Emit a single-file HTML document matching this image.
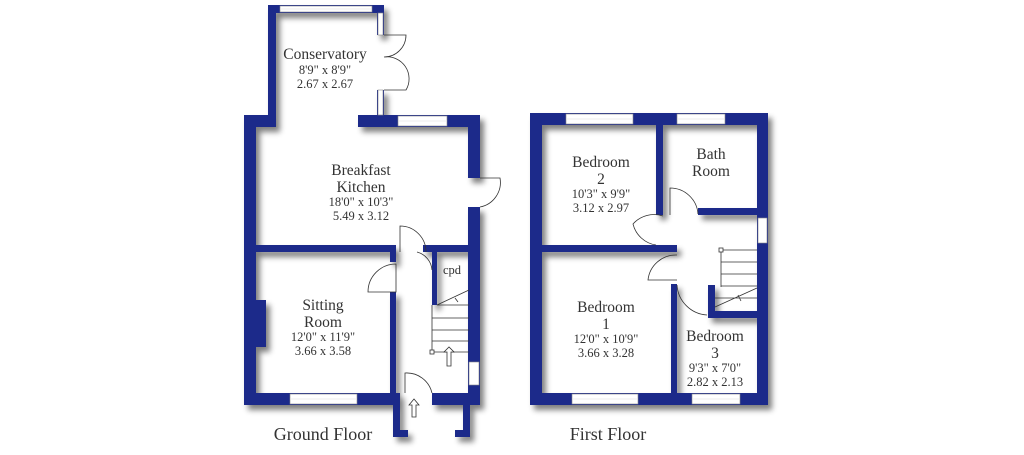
<!DOCTYPE html>
<html><head><meta charset="utf-8"><style>
html,body{margin:0;padding:0;background:#fff;}
svg{display:block}
text{font-family:"Liberation Serif",serif;fill:#333;text-anchor:middle}
.n{font-size:15.5px}.d{font-size:12.5px}
</style></head><body>
<svg width="1024" height="455" viewBox="0 0 1024 455">
<defs>
<filter id="sh" x="-10%" y="-10%" width="130%" height="130%">
<feGaussianBlur in="SourceAlpha" stdDeviation="3"/><feOffset dx="4" dy="5"/>
<feComponentTransfer><feFuncA type="linear" slope="0.5"/></feComponentTransfer>
<feMerge><feMergeNode/><feMergeNode in="SourceGraphic"/></feMerge></filter>
</defs>
<g fill="#1e2a8a" filter="url(#sh)">
<rect x="268" y="5" width="116" height="8"/>
<rect x="268" y="5" width="8" height="122"/>
<rect x="377" y="5" width="7" height="30"/>
<rect x="377" y="90" width="7" height="30"/>
<rect x="244" y="115" width="32" height="12"/>
<rect x="244" y="115" width="12" height="290"/>
<rect x="358" y="115" width="122" height="12"/>
<rect x="468" y="115" width="12" height="63"/>
<rect x="468" y="207" width="12" height="198"/>
<rect x="256" y="245" width="140" height="7"/>
<rect x="423" y="245" width="47" height="7"/>
<rect x="390" y="245" width="6" height="17"/>
<rect x="390" y="292" width="6" height="113"/>
<rect x="432" y="252" width="5" height="53"/>
<rect x="256" y="300" width="10" height="47"/>
<rect x="244" y="393" width="156" height="12"/>
<rect x="432" y="393" width="48" height="12"/>
<rect x="393" y="393" width="7" height="44"/>
<rect x="393" y="430" width="15" height="7"/>
<rect x="463" y="393" width="7" height="44"/>
<rect x="455" y="430" width="15" height="7"/>
<rect x="530" y="113" width="238" height="12"/>
<rect x="530" y="113" width="12" height="292"/>
<rect x="757" y="113" width="11" height="292"/>
<rect x="530" y="393" width="238" height="12"/>
<rect x="656" y="125" width="7" height="90"/>
<rect x="698" y="208" width="59" height="7"/>
<rect x="542" y="245" width="135" height="7"/>
<rect x="671" y="284" width="6" height="109"/>
<rect x="708" y="285" width="7" height="33"/>
<rect x="708" y="311" width="49" height="7"/>
</g>
<g fill="#fff" stroke="#888" stroke-width="0.6">
<rect x="280" y="6" width="92" height="6"/>
<rect x="378" y="13" width="5" height="22"/>
<rect x="378" y="90" width="5" height="25"/>
<rect x="398" y="116" width="49" height="10"/>
<rect x="469" y="362" width="10" height="23"/>
<rect x="290" y="394" width="67" height="10"/>
<rect x="566" y="114" width="67" height="10"/>
<rect x="677" y="114" width="48" height="10"/>
<rect x="758" y="218" width="9" height="25"/>
<rect x="572" y="394" width="66" height="10"/>
<rect x="692" y="394" width="48" height="10"/>
</g>
<g stroke="#ddd" stroke-width="0.6">
<line x1="280" y1="9" x2="372" y2="9"/><line x1="398" y1="121" x2="447" y2="121"/>
<line x1="290" y1="399" x2="357" y2="399"/><line x1="566" y1="119" x2="633" y2="119"/>
<line x1="677" y1="119" x2="725" y2="119"/><line x1="572" y1="399" x2="638" y2="399"/>
<line x1="692" y1="399" x2="740" y2="399"/>
</g>
<g fill="none" stroke="#333" stroke-width="0.8">
<path d="M384 35 L406 35 A22 22 0 0 1 384 57 A22 22 0 0 1 406 90 L384 90"/>
<path d="M480 178 L500 178 A25 25 0 0 1 480 207"/>
<path d="M400 252 L400 226 A26 26 0 0 1 426 252"/>
<path d="M368 292 A28 28 0 0 1 396 264 L396 292 Z"/>
<path d="M417 252 A20 20 0 0 1 432 270"/>
<path d="M405 393 L405 373 A26 26 0 0 1 432 393"/>
<path d="M670 215 L670 188 A28 28 0 0 1 698 214"/>
<path d="M663 216 A28 28 0 0 0 633 224 A28 28 0 0 0 656 245"/>
<path d="M677 255 A28 28 0 0 0 648 280 L677 280"/>
<path d="M677 285 A32 32 0 0 0 707 315"/>
<path d="M437 305 L469 305 M432 305 L432 352 L469 352 M432 318 L469 318 M432 330 L469 330 M432 341 L469 341 M437 305 L469 290 M455 298 L458 302"/>
<path d="M444 352 l5 -5 l5 5 l-3 0 l0 14 l-4 0 l0 -14 z" fill="#fff"/>
<path d="M409 405 l5 -6 l5 6 l-3 0 l0 12 l-4 0 l0 -12 z" fill="#fff"/>
<rect x="430" y="350" width="4" height="4" fill="#fff"/>
<path d="M721 250 L721 287 M721 250 L757 250 M721 262 L757 262 M721 274 L757 274 M721 286 L757 286 M715 298 L757 298 M715 307 L757 288 M738 295 L741 301"/>
<rect x="719" y="248" width="4" height="4" fill="#fff"/>
</g>
<text class="n" x="325" y="59">Conservatory</text>
<text class="d" x="325" y="74">8'9"  x  8'9"</text>
<text class="d" x="325" y="88">2.67  x  2.67</text>
<text class="n" x="361" y="175">Breakfast</text>
<text class="n" x="361" y="192">Kitchen</text>
<text class="d" x="361" y="206">18'0" x 10'3"</text>
<text class="d" x="361" y="220">5.49  x  3.12</text>
<text class="d" x="452" y="274">cpd</text>
<text class="n" x="323" y="310">Sitting</text>
<text class="n" x="323" y="327">Room</text>
<text class="d" x="323" y="341">12'0" x 11'9"</text>
<text class="d" x="323" y="355">3.66  x  3.58</text>
<text x="323" y="440" style="font-size:18px">Ground Floor</text>
<text class="n" x="601" y="167">Bedroom</text>
<text class="n" x="601" y="184">2</text>
<text class="d" x="601" y="198">10'3"  x  9'9"</text>
<text class="d" x="601" y="212">3.12  x  2.97</text>
<text class="n" x="711" y="159">Bath</text>
<text class="n" x="711" y="176">Room</text>
<text class="n" x="606" y="312">Bedroom</text>
<text class="n" x="606" y="329">1</text>
<text class="d" x="606" y="343">12'0" x 10'9"</text>
<text class="d" x="606" y="357">3.66  x  3.28</text>
<text class="n" x="715" y="341">Bedroom</text>
<text class="n" x="715" y="358">3</text>
<text class="d" x="715" y="372">9'3"  x  7'0"</text>
<text class="d" x="715" y="386">2.82  x  2.13</text>
<text x="608" y="440" style="font-size:18px">First Floor</text>
</svg>
</body></html>
